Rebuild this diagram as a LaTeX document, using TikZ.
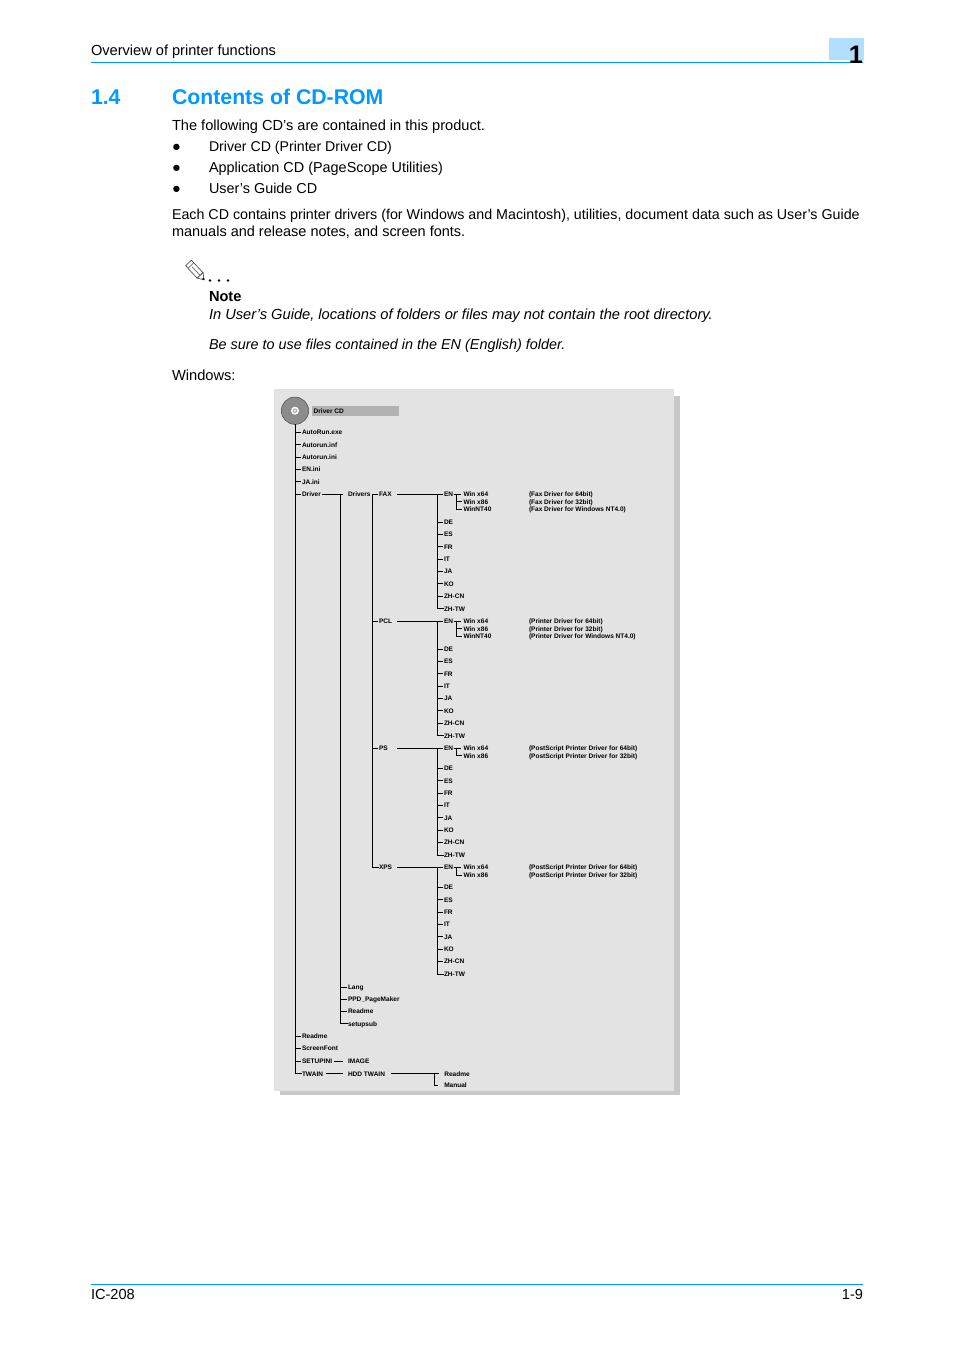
\documentclass[tikz,border=0pt]{standalone}
\usepackage{fontspec}
\setmainfont{Liberation Sans}
\definecolor{headblue}{RGB}{0,153,255}
\definecolor{tabblue}{RGB}{179,223,255}
\definecolor{panelgray}{RGB}{227,227,227}
\definecolor{shadowgray}{RGB}{200,200,200}
\definecolor{bargray}{RGB}{178,178,178}
\begin{document}
\begin{tikzpicture}[
    x=0.75pt, y=-0.75pt,
    every node/.style={inner sep=0pt, outer sep=0pt},
    bodytext/.style={anchor=base west, font=\fontsize{#1}{13}\selectfont},
    bodytext/.default=10.95,
    headtext/.style={anchor=base west, font=\fontsize{15.95}{18}\selectfont\bfseries, text=headblue},
    notetext/.style={anchor=base west, font=\fontsize{#1}{13}\selectfont\itshape},
    treetext/.style={anchor=west, yshift=-0.3pt, text height=3.5pt, text depth=0pt, font=\fontsize{4.9}{5}\selectfont\bfseries},
    treeline/.style={line width=0.7pt},
    branch/.style={treeline, shorten >=0.8pt}
]
\useasboundingbox (0,0) rectangle (954,1350);
\fill[white] (0,0) rectangle (954,1350);

\fill[tabblue] (829,38) rectangle (864,60);
\draw[headblue, line width=0.75pt] (91,62.5) -- (863,62.5);
\draw[headblue, line width=0.75pt] (91,1284.5) -- (863,1284.5);
\node[bodytext] (header) at (91,55) {Overview of printer functions};
\node[anchor=base east, font=\fontsize{19}{21}\selectfont\bfseries] (chapter) at (863,63) {1};
\node[bodytext] (model) at (91,1299) {IC-208};
\node[bodytext, anchor=base east] (page) at (863,1299) {1-9};

\node[headtext] (secnum) at (91,104) {1.4};
\node[headtext] (sectitle) at (172,104) {Contents of CD-ROM};
\node[bodytext] (intro) at (172,130) {The following CD’s are contained in this product.};
\foreach \name/\txt/\yy/\size in {driver/Driver CD (Printer Driver CD)/151/10.6,
    appl/Application CD (PageScope Utilities)/172/10.81,
    guide/User’s Guide CD/193/10.8} {
    \node[bodytext] (\name dot) at (172,\yy) {●};
    \node[bodytext=\size] (\name cd) at (209,\yy) {\txt};
}
\node[bodytext=10.7] (each) at (172,219) {Each CD contains printer drivers (for Windows and Macintosh), utilities, document data such as User’s Guide};
\node[bodytext=10.87] (each2) at (172,236) {manuals and release notes, and screen fonts.};

\begin{scope}[shift={(196,271)}, rotate=-47]
    \draw[black!70, fill=white, line width=0.5pt] (-11,-4) rectangle (6,4);
    \draw[black!70, fill=white, line width=0.5pt] (6,-4) -- (12,0) -- (6,4) -- cycle;
    \draw[black!70, line width=0.4pt] (-7.5,-4) -- (-7.5,4) (-6,0) -- (6,0);
    \fill[black] (10,-1.2) -- (12.5,0) -- (10,1.2) -- cycle;
\end{scope}
\foreach \xx in {210,219,228} \fill (\xx,280.5) circle (1pt);
\node[bodytext, font=\fontsize{10.95}{13}\selectfont\bfseries] (note) at (209,301) {Note};
\node[notetext=11] (note1) at (209,319) {In User’s Guide, locations of folders or files may not contain the root directory.};
\node[notetext=10.8] (note2) at (209,349) {Be sure to use files contained in the EN (English) folder.};
\node[bodytext=11] (windows) at (172,380) {Windows:};

\fill[shadowgray] (280,396) rectangle (680,1095);
\fill[panelgray] (274,389) rectangle (674,1091);
\fill[bargray] (312,406) rectangle (399,416);
\node[circle, minimum size=20.5pt, fill=black!45, draw=black!70, line width=0.4pt] (disc) at (295,410.7) {};
\node[circle, minimum size=6pt, fill=white] (hole) at (disc) {};
\node[circle, minimum size=3.4pt, fill=black!35] (spindle) at (disc) {};
\node[circle, minimum size=1.6pt, fill=white] (spindlehole) at (disc) {};
\node[treetext] (drivercd) at (313.7,411) {Driver CD};

\foreach \name/\txt/\yy in {autoexe/AutoRun.exe/432, autoinf/Autorun.inf/444.3, autoini/Autorun.ini/456.7,
    enini/EN.ini/469, jaini/JA.ini/481.3, driver/Driver/493.7, readme/Readme/1036,
    screenfont/ScreenFont/1048, setupini/SETUPINI/1060.7, twain/TWAIN/1073.3} {
    \node[treetext] (\name) at (302,\yy) {\txt};
    \draw[branch] (\name.west -| disc.south) -- (\name.west);
}
\draw[treeline] (disc.south) |- (twain.west);

\node[treetext] (drivers) at (348,493.7) {Drivers};
\coordinate (driversx) at (340.5,0);
\draw[treeline, shorten <=1pt, shorten >=3.7pt] (driver.east) -- (drivers.west);
\foreach \name/\txt/\yy in {lang/Lang/986.7, ppd/PPD\_PageMaker/998.7, readmeb/Readme/1011, setupsub/setupsub/1023.3} {
    \node[treetext] (\name) at (348,\yy) {\txt};
    \draw[branch] (\name.west -| driversx) -- (\name.west);
}
\draw[treeline] (drivers.west -| driversx) |- (setupsub.west);

\coordinate (typex) at (372.7,0);
\coordinate (langx) at (437,0);
\coordinate (winx) at (456,0);
\foreach \grp/\txt/\yy/\base in {fax/FAX/493.7/521.7, pcl/PCL/620.7/648.7, ps/PS/747.7/768, xps/XPS/867/887} {
    \node[treetext] (\grp) at (379,\yy) {\txt};
    \node[treetext] (\grp en) at (444,\yy) {EN};
    \draw[branch] (\grp.west -| typex) -- (\grp.west);
    \draw[treeline, shorten >=0.8pt] (\grp.west -| 397,0) -- (\grp en.west);
    \foreach \lang/\ltxt [count=\i from 0] in {de/DE, es/ES, fr/FR, it/IT, ja/JA, ko/KO, zhcn/ZH-CN, zhtw/ZH-TW} {
        \node[treetext] (\grp\lang) at (444,{\base+\i*12.37}) {\ltxt};
        \draw[branch] (\grp\lang.west -| langx) -- (\grp\lang.west);
    }
    \draw[treeline] (\grp en.west -| langx) |- (\grp zhtw.west);
    \node[treetext] (\grp wina) at (463.5,\yy) {Win x64};
    \node[treetext] (\grp winb) at (463.5,\yy+7.6) {Win x86};
    \draw[treeline, shorten <=0.5pt, shorten >=2pt] (\grp en.east) -- (\grp wina.west);
    \draw[branch] (\grp wina.west -| winx) |- (\grp winb.west);
}
\draw[treeline] (fax.west -| typex) |- (xps.west);

\node[treetext] (faxwinc) at (463.5,509) {WinNT40};
\node[treetext] (pclwinc) at (463.5,636) {WinNT40};
\draw[branch] (faxwinb.west -| winx) |- (faxwinc.west);
\draw[branch] (pclwinb.west -| winx) |- (pclwinc.west);

\foreach \name/\txt/\yy in {faxa/Fax Driver for 64bit/493.7, faxb/Fax Driver for 32bit/501.3, faxc/Fax Driver for Windows NT4.0/509,
    pcla/Printer Driver for 64bit/620.7, pclb/Printer Driver for 32bit/628.3, pclc/Printer Driver for Windows NT4.0/636,
    psa/PostScript Printer Driver for 64bit/747.7, psb/PostScript Printer Driver for 32bit/755.3,
    xpsa/PostScript Printer Driver for 64bit/867, xpsb/PostScript Printer Driver for 32bit/874.6} {
    \node[treetext] (\name) at (529,\yy) {(\txt)};
}

\node[treetext] (image) at (348,1060.7) {IMAGE};
\draw[treeline, shorten <=1.5pt, shorten >=3.7pt] (setupini.east) -- (image.west);
\node[treetext] (hddtwain) at (348,1073.3) {HDD TWAIN};
\draw[treeline, shorten <=2.2pt, shorten >=3.7pt] (twain.east) -- (hddtwain.west);
\node[treetext] (twreadme) at (444.3,1073.3) {Readme};
\node[treetext] (twmanual) at (444.3,1085) {Manual};
\coordinate (twainx) at (434,0);
\draw[treeline, shorten <=4.5pt, shorten >=4pt] (hddtwain.east) -- (twreadme.west);
\draw[treeline, shorten >=4.5pt] (twreadme.west -| twainx) |- (twmanual.west);
\end{tikzpicture}
\end{document}
